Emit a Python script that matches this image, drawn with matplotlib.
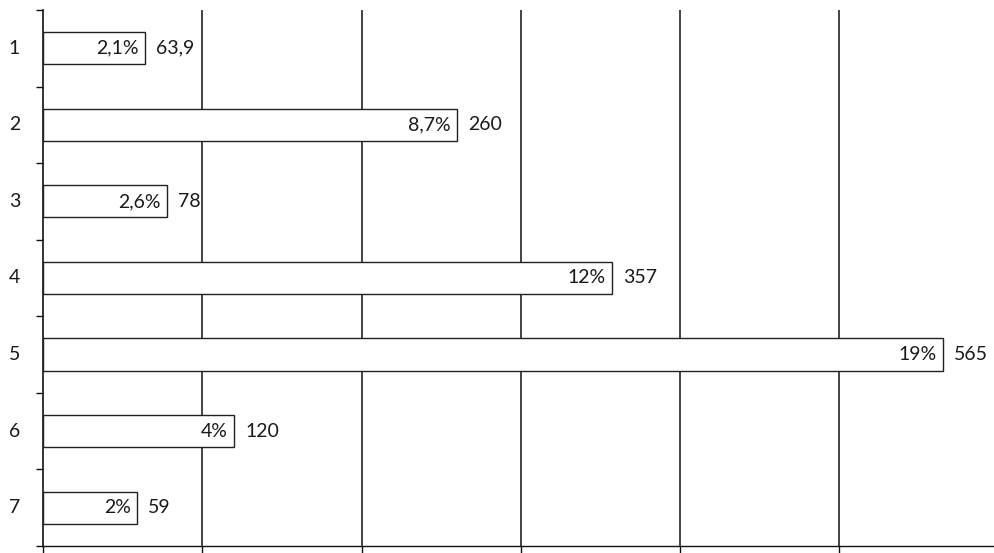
import matplotlib.pyplot as plt
import numpy as np

plt.rcParams['font.family'] = ['Lato', 'DejaVu Sans']

categories = ['1', '2', '3', '4', '5', '6', '7']
values = [63.9, 260, 78, 357, 565, 120, 59]
value_labels = ['63,9', '260', '78', '357', '565', '120', '59']
pct_labels = ['2,1%', '8,7%', '2,6%', '12%', '19%', '4%', '2%']

fig = plt.figure(figsize=(9.94, 5.53), dpi=100)
ax = fig.add_axes([0.0433, 0.0127, 0.9567, 0.9693])

y = np.arange(1, len(categories) + 1)
ax.barh(y, values, height=0.42, color='white', edgecolor='#222222',
        linewidth=1.0, zorder=3)

for yi, v, p, lab in zip(y, values, pct_labels, value_labels):
    ax.text(v - 4, yi, p, ha='right', va='center', fontsize=14,
            color='#1a1a1a', zorder=4)
    ax.text(v + 7, yi, lab, ha='left', va='center', fontsize=14,
            color='#1a1a1a', zorder=4)

ax.set_xlim(0, 597)
ax.set_ylim(7.5, 0.5)

# vertical grid
for gx in [100, 200, 300, 400, 500]:
    ax.axvline(gx, color='#111111', linewidth=1.1, zorder=1)

ax.set_xticks([0, 100, 200, 300, 400, 500])
ax.set_xticklabels([])
ax.tick_params(axis='x', length=5, width=1, color='#111111', direction='out')

ax.set_yticks(np.arange(0.5, 8, 1.0))
ax.set_yticklabels([])
ax.tick_params(axis='y', length=5, width=1, color='#111111', direction='out')
for yi, c in zip(y, categories):
    ax.text(-18, yi, c, ha='center', va='center', fontsize=14,
            color='#1a1a1a', clip_on=False)

ax.spines['top'].set_visible(False)
ax.spines['right'].set_visible(False)
ax.spines['left'].set_color('#111111')
ax.spines['bottom'].set_color('#111111')
ax.spines['left'].set_linewidth(1.2)
ax.spines['bottom'].set_linewidth(1.0)

fig.savefig('out.png', dpi=100)
